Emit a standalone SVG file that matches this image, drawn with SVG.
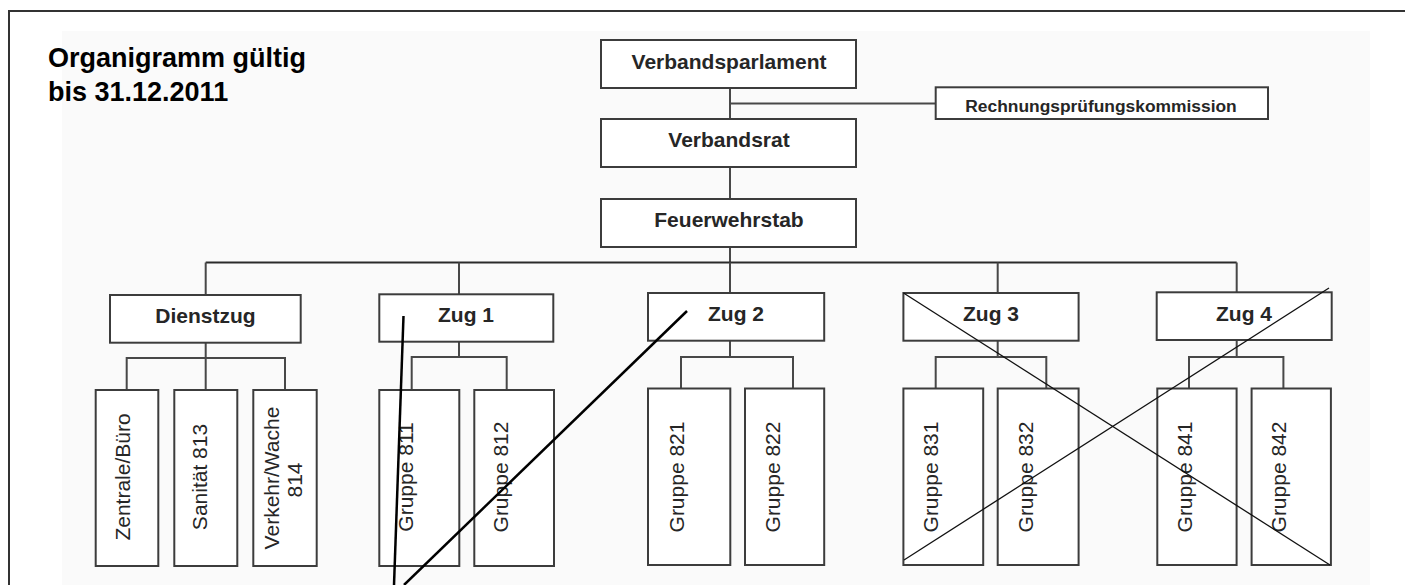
<svg xmlns="http://www.w3.org/2000/svg" width="1405" height="585" viewBox="0 0 1405 585">
<style>
.box{fill:#fff;stroke:#3c3c3c;stroke-width:2}
.lbl{font-family:"Liberation Sans",Arial,sans-serif;font-weight:bold;font-size:21px;fill:#262626;text-anchor:middle}
.vl{font-family:"Liberation Sans",Arial,sans-serif;font-size:21px;fill:#262626;text-anchor:middle}
.conn{stroke:#484848;stroke-width:2;fill:none}
.ann{stroke:#000;stroke-width:2.5;fill:none}
.cross{stroke:#111;stroke-width:1.3;fill:none}
.title{font-family:"Liberation Sans",Arial,sans-serif;font-weight:bold;font-size:27px;fill:#000}
</style>
<rect x="0" y="0" width="1405" height="585" fill="#fff"/>
<rect x="62" y="31" width="1308" height="554" fill="#fafafa"/>
<path d="M9,585 V11 H1405" fill="none" stroke="#333" stroke-width="2"/>
<g id="title">
<text class="title" x="48" y="67">Organigramm gültig</text>
<text class="title" x="48" y="101">bis 31.12.2011</text>
</g>
<g id="connectors">
<path class="conn" d="M730,88 V119 M730,103.5 H935.7 M730,167 V199 M730,247 V262.5"/>
<path class="conn" style="stroke:#2a2a2a" d="M205.7,262.5 H1236.7"/>
<path class="conn" d="M205.7,262.5 V295 M459,262.5 V294 M730,262.5 V293 M997.7,262.5 V293 M1236.7,262.5 V292"/>
<path class="conn" d="M205.7,343 V390 M126.7,390 V358 H285 V390"/>
<path class="conn" d="M459,342 V357 M411.7,390 V357 H506.7 V390"/>
<path class="conn" d="M730,341 V357 M681,388 V357 H793 V388"/>
<path class="conn" d="M997.7,341 V357 M935.7,388 V357 H1046.3 V388"/>
<path class="conn" d="M1236.7,340 V357 M1189,388 V357 H1283.4 V388"/>
</g>
<g id="n-verbandsparlament"><rect class="box" x="601" y="40" width="255" height="48"/><text class="lbl" x="729" y="69">Verbandsparlament</text></g>
<g id="n-rpk"><rect class="box" x="935.7" y="87.3" width="332.3" height="31.7"/><text class="lbl" style="font-size:17.4px" x="1101" y="111.5">Rechnungsprüfungskommission</text></g>
<g id="n-verbandsrat"><rect class="box" x="601" y="119" width="255" height="48"/><text class="lbl" x="729" y="147">Verbandsrat</text></g>
<g id="n-feuerwehrstab"><rect class="box" x="601" y="199" width="255" height="48"/><text class="lbl" x="729" y="227">Feuerwehrstab</text></g>
<g id="n-dienstzug"><rect class="box" x="110" y="295" width="190.7" height="47.7"/><text class="lbl" x="205.5" y="323">Dienstzug</text></g>
<g id="n-zug1"><rect class="box" x="379.3" y="294.3" width="174" height="47.4"/><text class="lbl" x="466" y="321.7">Zug 1</text></g>
<g id="n-zug2"><rect class="box" x="648" y="293" width="176.2" height="47.7"/><text class="lbl" x="736" y="321">Zug 2</text></g>
<g id="n-zug3"><rect class="box" x="903.4" y="293" width="175.2" height="47.7"/><text class="lbl" x="991" y="321">Zug 3</text></g>
<g id="n-zug4"><rect class="box" x="1156.7" y="292.3" width="175" height="47.7"/><text class="lbl" x="1244" y="320.5">Zug 4</text></g>
<g id="n-zentrale"><rect class="box" x="95.7" y="390" width="62.6" height="176"/><text class="vl" transform="translate(130,477) rotate(-90)">Zentrale/Büro</text></g>
<g id="n-sanitaet"><rect class="box" x="174.3" y="390" width="63" height="176"/><text class="vl" transform="translate(207,477) rotate(-90)">Sanität 813</text></g>
<g id="n-verkehr"><rect class="box" x="253.3" y="390" width="63.4" height="176"/><text class="vl" transform="translate(279,478) rotate(-90)">Verkehr/Wache</text><text class="vl" transform="translate(302,480) rotate(-90)">814</text></g>
<g id="n-g811"><rect class="box" x="379.3" y="390" width="80" height="176"/><text class="vl" transform="translate(413,477) rotate(-90)">Gruppe 811</text></g>
<g id="n-g812"><rect class="box" x="474.3" y="390" width="79.7" height="176"/><text class="vl" transform="translate(508,477) rotate(-90)">Gruppe 812</text></g>
<g id="n-g821"><rect class="box" x="648" y="388.5" width="82.3" height="176.5"/><text class="vl" transform="translate(684,477) rotate(-90)">Gruppe 821</text></g>
<g id="n-g822"><rect class="box" x="745" y="388.5" width="79.2" height="176.5"/><text class="vl" transform="translate(779.5,477) rotate(-90)">Gruppe 822</text></g>
<g id="n-g831"><rect class="box" x="903.4" y="388.5" width="79.8" height="176.5"/><text class="vl" transform="translate(938,477) rotate(-90)">Gruppe 831</text></g>
<g id="n-g832"><rect class="box" x="997.7" y="388.5" width="80.9" height="176.5"/><text class="vl" transform="translate(1033,477) rotate(-90)">Gruppe 832</text></g>
<g id="n-g841"><rect class="box" x="1157.3" y="388.5" width="79.3" height="176.5"/><text class="vl" transform="translate(1192,477) rotate(-90)">Gruppe 841</text></g>
<g id="n-g842"><rect class="box" x="1251.6" y="388.5" width="79.3" height="176.5"/><text class="vl" transform="translate(1286,477) rotate(-90)">Gruppe 842</text></g>
<g id="overlay">
<line class="cross" x1="903.5" y1="293" x2="1330" y2="565"/>
<line class="cross" x1="904" y1="560" x2="1329" y2="288"/>
<line class="ann" x1="403.5" y1="316" x2="394" y2="585"/>
<line class="ann" x1="687" y1="311" x2="404" y2="585"/>
</g>
</svg>
